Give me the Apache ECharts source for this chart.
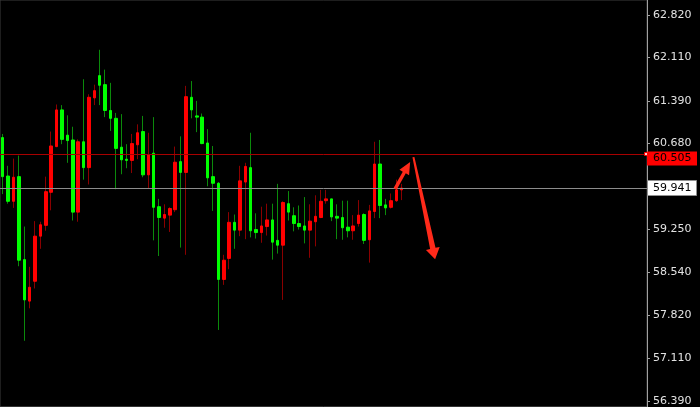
<!DOCTYPE html>
<html><head><meta charset="utf-8">
<script src="https://cdn.jsdelivr.net/npm/echarts@6/dist/echarts.min.js"></script>
<style>html,body{margin:0;padding:0;background:#000;overflow:hidden}#c{width:700px;height:407px}</style>
</head><body><div id="c"></div>
<script>
const openP = [60.78,60.14,59.72,60.13,58.75,58.06,58.39,59.14,59.32,59.87,
60.63,61.24,60.82,60.74,59.54,60.71,60.28,61.44,61.81,61.66,
61.23,61.10,60.62,60.42,60.40,60.66,60.88,60.16,60.52,59.63,
59.44,59.49,59.58,60.38,60.20,61.45,61.14,61.12,60.69,60.13,
60.02,58.42,58.77,59.37,59.24,60.04,60.28,59.25,59.20,59.30,
59.41,59.07,58.99,59.68,59.48,59.35,59.31,59.24,59.38,59.45,
59.73,59.76,59.47,59.45,59.29,59.23,59.35,59.50,59.08,59.55,
60.34,59.66,59.62,59.73,59.91];
const closeP = [60.13,59.72,60.12,58.74,58.08,58.29,59.14,59.33,59.88,60.64,
61.24,60.75,60.73,59.54,60.71,60.28,61.45,61.56,61.65,61.23,
61.10,60.60,60.41,60.40,60.68,60.86,60.16,60.49,59.62,59.45,
59.50,59.60,60.37,60.20,61.46,61.24,61.12,60.68,60.11,60.02,
58.42,58.74,59.37,59.24,60.06,60.30,59.23,59.20,59.31,59.41,
59.04,58.99,59.70,59.54,59.35,59.30,59.24,59.39,59.47,59.72,
59.76,59.46,59.44,59.28,59.23,59.31,59.49,59.07,59.56,60.34,
59.65,59.61,59.73,59.91,59.941];
const lowP = [59.84,59.68,59.61,58.64,57.40,57.94,58.27,58.93,59.23,59.57,
60.62,60.67,60.36,59.40,59.38,60.08,60.00,61.32,61.32,61.12,
60.89,59.92,60.17,60.27,60.19,60.42,60.12,59.93,59.07,58.81,
59.28,59.21,59.54,58.95,58.83,61.10,60.87,60.67,59.97,59.56,
57.58,58.33,58.59,58.93,59.14,59.09,59.12,59.10,59.03,59.15,
58.75,58.85,58.08,59.40,59.22,59.25,59.02,58.78,58.97,59.44,
59.68,59.39,59.09,59.08,59.12,59.08,59.30,59.01,58.70,59.44,
59.44,59.49,59.60,59.71,59.74];
const highP = [60.84,60.31,60.43,60.48,59.30,58.63,59.39,59.38,60.13,60.88,
61.33,61.32,61.15,60.96,60.75,61.75,61.50,61.66,62.24,61.91,
61.69,61.19,61.17,60.67,60.84,61.00,61.14,60.86,61.12,59.76,
59.67,59.62,60.63,60.80,61.64,61.72,61.39,61.18,60.92,60.64,
60.04,58.83,59.54,59.50,60.31,60.36,60.86,59.52,59.63,59.68,
59.68,60.01,59.72,59.89,59.62,59.65,59.79,59.67,59.82,59.91,
59.91,59.76,59.67,59.73,59.73,59.49,59.74,59.52,59.66,60.71,
60.74,59.76,59.85,60.08,60.01];
const slotCount = 120;
const categories = Array.from({length: slotCount}, (_, i) => String(i + 1));
const yTickValues = [62.82, 62.11, 61.39, 60.68, 59.25, 58.54, 57.82, 57.11, 56.39];
const askPrice = 60.505;
const bidPrice = 59.941;
const arrowUp = [[72.78, 59.926], [75.57, 60.373]];
const arrowDown = [[76.18, 60.455], [80.20, 58.757]];

const FONT = 'DejaVu Sans';
const wickData = openP.map((o, i) => [o, closeP[i], lowP[i], highP[i]]);
const bodyData = openP.map((o, i) => [o, closeP[i], Math.min(o, closeP[i]), Math.max(o, closeP[i])]);

const chart = echarts.init(document.getElementById('c'), null, {renderer: 'canvas'});
chart.setOption({
  animation: false,
  backgroundColor: '#000',
  grid: {left: 0, right: 53, top: 0, bottom: -2, show: true, borderColor: '#3c3c3c', borderWidth: 1, backgroundColor: '#000'},
  xAxis: {type: 'category', data: categories, show: false},
  yAxis: {
    type: 'value', position: 'right', min: 56.3044, max: 63.0681, scale: true,
    splitLine: {show: false},
    axisLine: {show: true, lineStyle: {color: '#a0a0a0', width: 1}},
    axisTick: {show: true, length: 3, customValues: yTickValues, lineStyle: {color: '#a0a0a0'}},
    axisLabel: {show: true, customValues: yTickValues, formatter: v => v.toFixed(3), color: '#e2e2e2', fontSize: 11, fontFamily: FONT, margin: 6}
  },
  series: [
    {
      type: 'candlestick', data: wickData, barWidth: 1,
      itemStyle: {color: '#8a0000', color0: '#0b8a0b', borderColor: '#8a0000', borderColor0: '#0b8a0b', borderWidth: 1},
      markLine: {
        silent: true, symbol: 'none', label: {show: false},
        data: [
          {yAxis: askPrice, lineStyle: {color: '#a80000', width: 1, type: 'solid'}},
          {yAxis: bidPrice, lineStyle: {color: '#8c8c8c', width: 1, type: 'solid'}}
        ]
      }
    },
    {
      type: 'candlestick', data: bodyData, barWidth: 3,
      itemStyle: {color: '#ff0000', color0: '#00ff00', borderColor: '#ff0000', borderColor0: '#00ff00', borderWidth: 1}
    }
  ]
});

function px(pt) {
  const i = Math.floor(pt[0]);
  const f = pt[0] - i;
  const a = chart.convertToPixel({xAxisIndex: 0}, i);
  const b = chart.convertToPixel({xAxisIndex: 0}, i + 1);
  const y = chart.convertToPixel({yAxisIndex: 0}, pt[1]);
  return [a + (b - a) * f, y];
}
function arrowPoly(p0, p1, w0, w1, headLen, headW) {
  const dx = p1[0] - p0[0], dy = p1[1] - p0[1];
  const L = Math.hypot(dx, dy);
  const ux = dx / L, uy = dy / L, nx = -uy, ny = ux;
  const bx = p1[0] - ux * headLen, by = p1[1] - uy * headLen;
  return [
    [p0[0] + nx * w0 / 2, p0[1] + ny * w0 / 2],
    [bx + nx * w1 / 2, by + ny * w1 / 2],
    [bx + nx * headW / 2, by + ny * headW / 2],
    p1,
    [bx - nx * headW / 2, by - ny * headW / 2],
    [bx - nx * w1 / 2, by - ny * w1 / 2],
    [p0[0] - nx * w0 / 2, p0[1] - ny * w0 / 2]
  ];
}
const yAsk = chart.convertToPixel({yAxisIndex: 0}, askPrice);
const yBid = chart.convertToPixel({yAxisIndex: 0}, bidPrice);
const up0 = px(arrowUp[0]), up1 = px(arrowUp[1]);
const dn0 = px(arrowDown[0]), dn1 = px(arrowDown[1]);
chart.setOption({
  graphic: [
    {type: 'polygon', z: 100, shape: {points: arrowPoly(up0, up1, 3.5, 3.5, 12, 11)}, style: {fill: '#ff2a1a'}},
    {type: 'polygon', z: 100, shape: {points: arrowPoly(dn0, dn1, 2, 5.5, 11, 14)}, style: {fill: '#ff2a1a'}},
    {type: 'rect', z: 100, shape: {x: 647, y: Math.round(yAsk) - 2.5, width: 50, height: 14}, style: {fill: '#ff0000'}},
    {type: 'text', z: 101, x: 653, y: Math.round(yAsk) + 4.5, style: {text: askPrice.toFixed(3), fill: '#000', font: '11px ' + FONT, verticalAlign: 'middle'}},
    {type: 'rect', z: 100, shape: {x: 647.5, y: Math.round(yBid) - 7.5, width: 49, height: 15}, style: {fill: '#fff', stroke: '#909090', lineWidth: 1}},
    {type: 'text', z: 101, x: 653, y: Math.round(yBid), style: {text: bidPrice.toFixed(3), fill: '#000', font: '11px ' + FONT, verticalAlign: 'middle'}},
    {type: 'rect', z: 102, shape: {x: 644.5, y: Math.round(yAsk) - 1.5, width: 3, height: 3}, style: {fill: '#ffd0d0', stroke: '#ff0000', lineWidth: 1}}
  ]
});
</script></body></html>
